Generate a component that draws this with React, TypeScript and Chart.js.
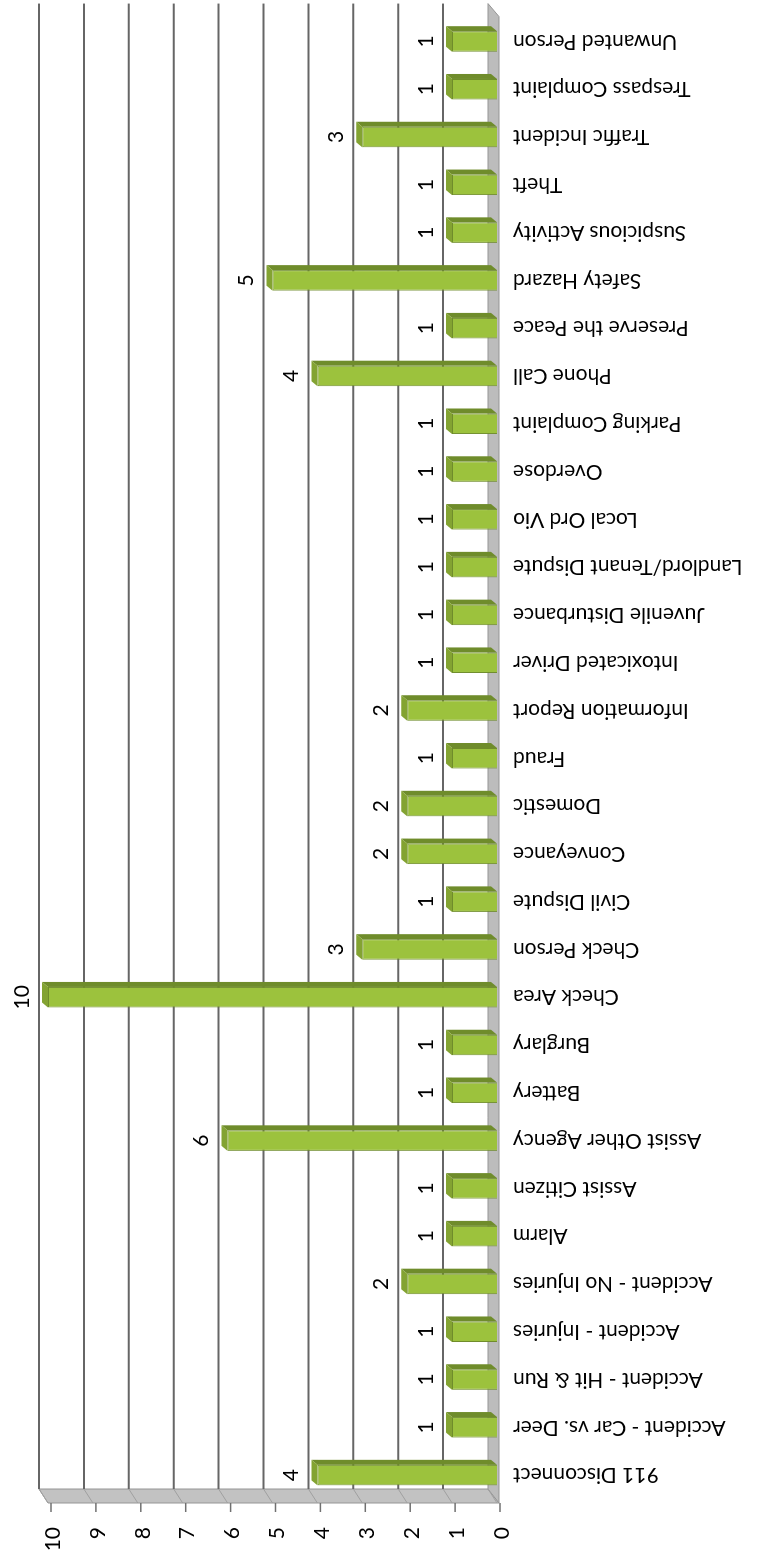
import React, { useEffect, useRef } from "react";
import { Chart, registerables } from "chart.js";

Chart.register(...registerables);

const categories = [
  "911 Disconnect",
  "Accident - Car vs. Deer",
  "Accident - Hit & Run",
  "Accident - Injuries",
  "Accident - No Injuries",
  "Alarm",
  "Assist Citizen",
  "Assist Other Agency",
  "Battery",
  "Burglary",
  "Check Area",
  "Check Person",
  "Civil Dispute",
  "Conveyance",
  "Domestic",
  "Fraud",
  "Information Report",
  "Intoxicated Driver",
  "Juvenile Disturbance",
  "Landlord/Tenant Dispute",
  "Local Ord Vio",
  "Overdose",
  "Parking Complaint",
  "Phone Call",
  "Preserve the Peace",
  "Safety Hazard",
  "Suspicious Activity",
  "Theft",
  "Traffic Incident",
  "Trespass Complaint",
  "Unwanted Person",
];

const counts = [4, 1, 1, 1, 2, 1, 1, 6, 1, 1, 10, 3, 1, 2, 2, 1, 2, 1, 1, 1, 1, 1, 1, 4, 1, 5, 1, 1, 3, 1, 1];

const valueTicks = [0, 1, 2, 3, 4, 5, 6, 7, 8, 9, 10];

const FONT = "Lato, 'Liberation Sans', sans-serif";
const W = 1564;
const H = 775;

const threeD = {
  id: "threeD",
  beforeDatasetsDraw(chart: any) {
    const ctx = chart.ctx;
    const ys = chart.scales.y;
    const { left, right } = chart.chartArea;
    const dx = 14;
    const dy = -9;
    const y0 = ys.getPixelForValue(0);
    const yTop = ys.getPixelForValue(10);
    const fl = left - 4;
    ctx.save();
    // side wall
    ctx.fillStyle = "#c2c2c2";
    ctx.strokeStyle = "#959595";
    ctx.lineWidth = 1;
    ctx.beginPath();
    ctx.moveTo(fl, y0 + 2);
    ctx.lineTo(fl, yTop);
    ctx.lineTo(fl + dx, yTop + dy);
    ctx.lineTo(fl + dx, y0 + dy);
    ctx.closePath();
    ctx.fill();
    ctx.stroke();
    // floor
    ctx.fillStyle = "#bcbcbc";
    ctx.beginPath();
    ctx.moveTo(fl, y0 + 2);
    ctx.lineTo(right + 1, y0 + 2);
    ctx.lineTo(right + dx, y0 + dy);
    ctx.lineTo(fl + dx, y0 + dy);
    ctx.closePath();
    ctx.fill();
    ctx.stroke();
    // gridlines
    for (const v of valueTicks) {
      const y = ys.getPixelForValue(v);
      ctx.strokeStyle = "#a0a0a0";
      ctx.lineWidth = 1;
      ctx.beginPath();
      ctx.moveTo(fl, y);
      ctx.lineTo(fl + dx, y + dy);
      ctx.stroke();
      if (v > 0) {
        ctx.strokeStyle = "#666666";
        ctx.lineWidth = 2;
        ctx.beginPath();
        ctx.moveTo(fl + dx, y + dy);
        ctx.lineTo(right + dx, y + dy);
        ctx.stroke();
      }
      ctx.strokeStyle = "#707070";
      ctx.lineWidth = 1.5;
      ctx.beginPath();
      ctx.moveTo(fl - 9, y + 3);
      ctx.lineTo(fl, y + 3);
      ctx.stroke();
    }
    ctx.restore();
  },
  afterDatasetsDraw(chart: any) {
    const ctx = chart.ctx;
    const meta = chart.getDatasetMeta(0);
    const ddx = 5;
    const ddy = -6;
    ctx.save();
    meta.data.forEach((bar: any, i: number) => {
      const { x, y, base, width } = bar.getProps(["x", "y", "base", "width"], true);
      const l = x - width / 2;
      const r = x + width / 2;
      // right side face
      ctx.fillStyle = "#6f8c2b";
      ctx.beginPath();
      ctx.moveTo(r, y);
      ctx.lineTo(r + ddx, y + ddy);
      ctx.lineTo(r + ddx, base + ddy);
      ctx.lineTo(r, base);
      ctx.closePath();
      ctx.fill();
      // top face
      ctx.fillStyle = "#83a332";
      ctx.beginPath();
      ctx.moveTo(l, y);
      ctx.lineTo(l + ddx, y + ddy);
      ctx.lineTo(r + ddx, y + ddy);
      ctx.lineTo(r, y);
      ctx.closePath();
      ctx.fill();
      // value label
      ctx.fillStyle = "#000";
      ctx.font = `21px ${FONT}`;
      ctx.textAlign = "center";
      ctx.textBaseline = "middle";
      ctx.fillText(String(counts[i]), x, y - 26);
    });
    ctx.restore();
  },
};

export default function App() {
  const ref = useRef<HTMLCanvasElement | null>(null);
  useEffect(() => {
    if (!ref.current) return;
    const chart = new Chart(ref.current, {
      type: "bar",
      data: {
        labels: categories,
        datasets: [
          {
            data: counts,
            backgroundColor: "#9cc23d",
            borderColor: "#6f8c2b",
            borderWidth: 1,
            barPercentage: 0.43,
            categoryPercentage: 1,
          },
        ],
      },
      options: {
        responsive: false,
        animation: false,
        devicePixelRatio: 1,
        layout: { padding: { top: 48, right: 16, left: 0, bottom: 0 } },
        plugins: { legend: { display: false }, tooltip: { enabled: false } },
        scales: {
          x: {
            offset: true,
            grid: { display: false, drawTicks: false },
            border: { display: false },
            ticks: {
              autoSkip: false,
              minRotation: 90,
              maxRotation: 90,
              padding: 16,
              color: "#000",
              font: { family: FONT, size: 21 },
            },
            afterFit: (s: any) => {
              s.height = H - 497;
            },
          },
          y: {
            min: 0,
            max: 10,
            grid: { display: false, drawTicks: false },
            border: { display: false },
            ticks: {
              stepSize: 1,
              padding: 28,
              labelOffset: 5,
              color: "#000",
              font: { family: FONT, size: 21 },
            },
            afterFit: (s: any) => {
              s.width = 65;
            },
          },
        },
      },
      plugins: [threeD],
    });
    return () => chart.destroy();
  }, []);

  return (
    <div
      style={{
        position: "absolute",
        left: 0,
        top: 0,
        width: 775,
        height: 1564,
        overflow: "hidden",
        background: "#fff",
      }}
    >
      <div
        style={{
          position: "absolute",
          left: 0,
          top: 0,
          width: W,
          height: H,
          transformOrigin: "0 0",
          transform: `translate(0px, ${W}px) rotate(-90deg)`,
        }}
      >
        <canvas ref={ref} width={W} height={H} style={{ width: W, height: H, display: "block" }} />
      </div>
    </div>
  );
}
